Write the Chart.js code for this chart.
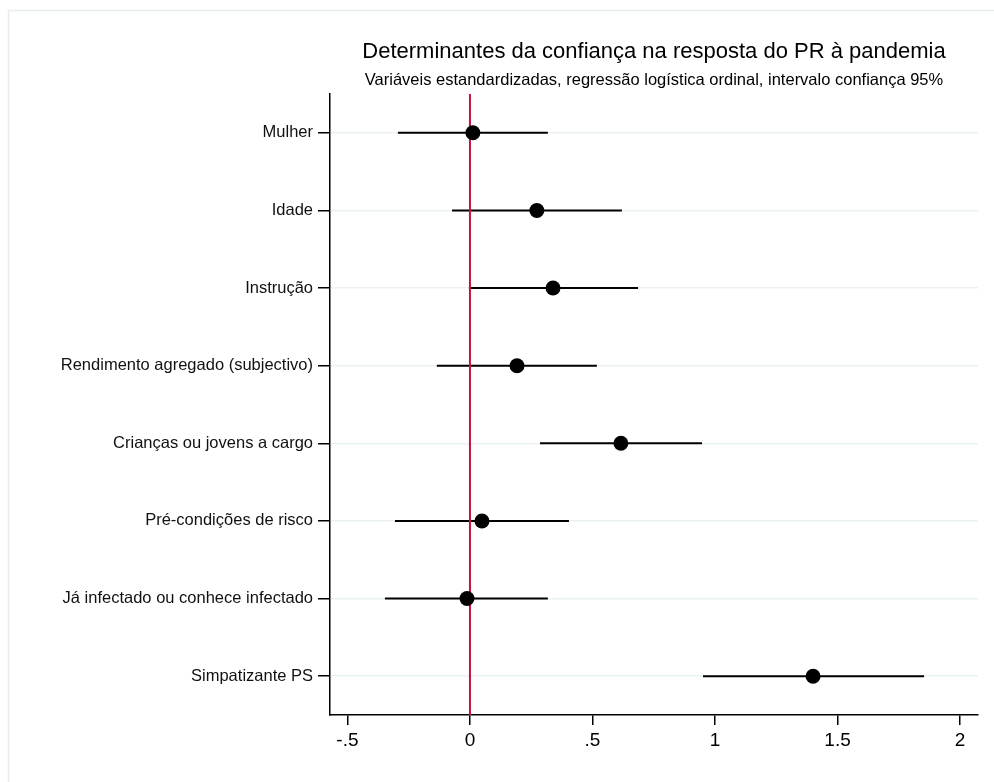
<!DOCTYPE html>
<html>
<head>
<meta charset="utf-8">
<script src="https://cdn.jsdelivr.net/npm/chart.js@4"></script>
<style>
  html, body { margin: 0; padding: 0; background: #fff; }
  #wrap { width: 994px; height: 782px; position: relative; }
</style>
</head>
<body>
<div id="wrap"><canvas id="chart1"></canvas></div>
<script>
// variaveis (de cima para baixo)
var labels = [
    "Mulher",
    "Idade",
    "Instrução",
    "Rendimento agregado (subjectivo)",
    "Crianças ou jovens a cargo",
    "Pré-condições de risco",
    "Já infectado ou conhece infectado",
    "Simpatizante PS"
];
var coef  = [0.012, 0.273, 0.339, 0.192, 0.616, 0.049, -0.012, 1.400];
var ci_lo = [-0.294, -0.073, -0.004, -0.135, 0.286, -0.306, -0.347, 0.951];
var ci_hi = [0.318, 0.620, 0.686, 0.518, 0.947, 0.404, 0.318, 1.853];

var xTicks = [-0.5, 0, 0.5, 1, 1.5, 2];
var xTickLabels = ["-.5", "0", ".5", "1", "1.5", "2"];

var titulo = "Determinantes da confiança na resposta do PR à pandemia";
var subtitulo = "Variáveis estandardizadas, regressão logística ordinal, intervalo confiança 95%";

var FONT = "'Liberation Sans', Arial, Helvetica, sans-serif";

var datasets = [];
// intervalos de confianca
for (var i = 0; i < labels.length; i++) {
    datasets.push({
        type: 'line',
        data: [{x: ci_lo[i], y: i + 1}, {x: ci_hi[i], y: i + 1}],
        borderColor: '#000',
        borderWidth: 2,
        pointRadius: 0,
        order: 2
    });
}
// linha do zero
datasets.push({
    type: 'line',
    data: [{x: 0, y: 0.5}, {x: 0, y: labels.length + 0.5}],
    borderColor: '#c8103f',
    borderWidth: 2,
    pointRadius: 0,
    order: 1
});
// coeficientes
var pts = [];
for (var i = 0; i < labels.length; i++) {
    pts.push({x: coef[i], y: i + 1});
}
datasets.push({
    type: 'scatter',
    data: pts,
    backgroundColor: '#000',
    borderWidth: 0,
    pointRadius: 7.5,
    order: 0
});

// titulo centrado sobre a area do grafico
var titlePlugin = {
    id: 'titulos',
    beforeDraw: function(chart){
        var ctx = chart.ctx;
        ctx.save();
        ctx.fillStyle = '#fff';
        ctx.fillRect(0, 0, chart.width, chart.height);
        ctx.strokeStyle = '#e6eef0';
        ctx.lineWidth = 1.5;
        ctx.beginPath();
        ctx.moveTo(8.5, chart.height);
        ctx.lineTo(8.5, 10.5);
        ctx.lineTo(chart.width, 10.5);
        ctx.stroke();
        ctx.restore();
    },
    afterDraw: function(chart){
        var ctx = chart.ctx;
        var area = chart.chartArea;
        var cx = (area.left + area.right) / 2;
        ctx.save();
        ctx.fillStyle = '#000';
        ctx.textAlign = 'center';
        ctx.textBaseline = 'alphabetic';
        ctx.font = '22px ' + FONT;
        ctx.fillText(titulo, cx, 58);
        ctx.font = '16.5px ' + FONT;
        ctx.fillText(subtitulo, cx, 85);
        ctx.restore();
    }
};

var ctx = document.getElementById('chart1').getContext('2d');
var myChart = new Chart(ctx, {
    type: 'scatter',
    data: { datasets: datasets },
    plugins: [titlePlugin],
    options: {
        responsive: true,
        maintainAspectRatio: false,
        animation: false,
        layout: { padding: { left: 0, right: 16, top: 94, bottom: 0 } },
        plugins: {
            legend: { display: false },
            tooltip: { enabled: false },
            title: { display: false }
        },
        scales: {
            x: {
                type: 'linear',
                min: -0.571,
                max: 2.073,
                afterBuildTicks: function(axis){
                    axis.ticks = xTicks.map(function(v){ return {value: v}; });
                },
                afterFit: function(axis){ axis.height = 67; },
                ticks: {
                    color: '#000',
                    font: { family: FONT, size: 19 },
                    padding: 4,
                    maxRotation: 0,
                    autoSkip: false,
                    callback: function(value){
                        var k = xTicks.indexOf(value);
                        return k >= 0 ? xTickLabels[k] : '';
                    }
                },
                grid: {
                    drawOnChartArea: false,
                    drawTicks: true,
                    tickLength: 10,
                    tickColor: '#000',
                    lineWidth: 1.5
                },
                border: { color: '#000', width: 1.5 }
            },
            y: {
                type: 'linear',
                reverse: true,
                min: 0.5,
                max: labels.length + 0.5,
                afterBuildTicks: function(axis){
                    axis.ticks = labels.map(function(l, k){ return {value: k + 1}; });
                },
                afterFit: function(axis){ axis.width = 330; },
                ticks: {
                    color: '#111',
                    font: { family: FONT, size: 16.5 },
                    padding: 5,
                    autoSkip: false,
                    callback: function(value){
                        return labels[value - 1] || '';
                    }
                },
                grid: {
                    color: '#eaf2f4',
                    lineWidth: 1.5,
                    drawTicks: true,
                    tickLength: 12,
                    tickColor: '#000'
                },
                border: { color: '#000', width: 1.5 }
            }
        }
    }
});
</script>
</body>
</html>
